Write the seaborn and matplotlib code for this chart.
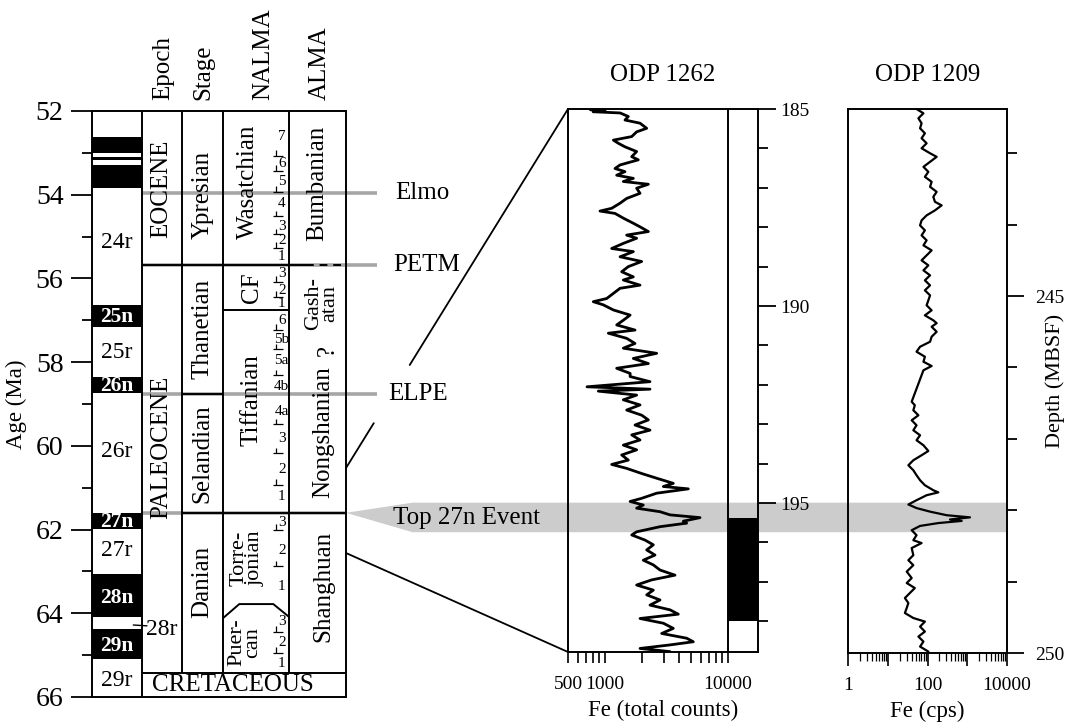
import numpy as np
import seaborn as sns
import matplotlib.pyplot as plt
from matplotlib.patches import ConnectionPatch, Polygon
from matplotlib.lines import Line2D
from matplotlib.ticker import NullFormatter

# --- 1. Data -----------------------------------------------------------------
# Magnetic polarity (normal chrons, black), ages in Ma
normal_top = [52.61, 53.09, 53.29, 56.63, 58.35, 61.61, 63.06, 64.38]
normal_base = [53.01, 53.16, 53.83, 57.17, 58.74, 61.99, 64.10, 65.09]
chron_names = ["24r", "25n", "25r", "26n", "26r", "27n", "27r", "28n", "29n", "29r"]
chron_ages = [55.15, 56.93, 57.78, 58.57, 60.14, 61.82, 62.49, 63.64, 64.77, 65.60]

# event horizons (Ma)
event_names = ["Elmo", "PETM", "ELPE"]
event_ages = [53.96, 55.68, 58.76]
top27n_age = 61.60
cretaceous_top = 65.42
cf_base = 56.76

# NALMA sub-zones: label, age of label
nalma_sub_labels = ["7", "6", "5", "4", "3", "2", "1",
                    "3", "2", "1",
                    "6", "5b", "5a", "4b", "4a", "3", "2", "1",
                    "3", "2", "1",
                    "3", "2", "1"]
nalma_sub_ages = [52.60, 53.25, 53.68, 54.20, 54.75, 55.10, 55.47,
                  55.88, 56.28, 56.60,
                  57.01, 57.45, 57.95, 58.59, 59.18, 59.82, 60.56, 61.21,
                  61.83, 62.50, 63.36,
                  64.20, 64.70, 65.19]
nalma_sub_bounds = [53.07, 53.43, 53.93, 54.52, 54.94, 55.27,
                    56.08, 56.44,
                    57.23, 57.69, 58.31, 59.48, 60.17, 60.93,
                    62.00, 62.87,
                    64.44, 64.94]

# ODP 1262: Fe (total counts) vs depth (mbsf)
depth_1262 = [185.02, 185.04, 185.07, 185.10, 185.19, 185.28, 185.36, 185.49, 185.58, 185.70,
              185.79, 185.87, 185.96, 186.08, 186.21, 186.29, 186.42, 186.51, 186.59, 186.68,
              186.76, 186.84, 186.91, 187.01, 187.14, 187.27, 187.39, 187.52, 187.59, 187.65,
              187.77, 187.90, 187.99, 188.11, 188.20, 188.28, 188.41, 188.54, 188.62, 188.75,
              188.87, 189.00, 189.13, 189.26, 189.34, 189.47, 189.55, 189.68, 189.81, 189.89,
              189.97, 190.10, 190.23, 190.36, 190.48, 190.61, 190.69, 190.82, 190.95, 191.07,
              191.20, 191.33, 191.46, 191.58, 191.71,
              191.79, 191.92, 192.05, 192.11, 192.16, 192.26, 192.38, 192.51, 192.64, 192.77,
              192.89, 193.02, 193.15, 193.27, 193.40, 193.53, 193.65, 193.78, 193.91, 194.02,
              194.12, 194.25, 194.37, 194.50, 194.58, 194.64, 194.75, 194.88, 194.96, 195.05,
              195.13, 195.22, 195.30, 195.37, 195.46, 195.51, 195.60, 195.73, 195.81, 195.94,
              196.06, 196.19, 196.32, 196.45, 196.57, 196.70, 196.83, 196.95, 197.08, 197.21,
              197.33, 197.46, 197.59, 197.71, 197.82, 197.93, 198.05, 198.18, 198.31, 198.43,
              198.52, 198.60, 198.69, 198.77]
fe_1262 = [760, 1000, 800, 1325, 1546, 1453, 1925, 2181, 1807, 1648,
           1169, 1283, 1453, 1807, 1648, 1865, 1325, 1205, 1453, 1244,
           1699, 1409, 2250, 1807, 1925, 1499, 1325, 1133, 910, 1205,
           1409, 1699, 1925, 2250, 1499, 1807, 1409, 1133, 1699, 1325,
           1985, 1546, 1366, 1699, 1409, 1925, 1325, 1169, 1031, 803,
           968, 1169, 1600, 1409, 1244, 1753, 1064, 1499, 1753, 1409,
           2629, 1699, 2250, 1244, 1600,
           1600, 2320, 714, 2320, 882, 1807, 1409, 1925, 1499, 1985,
           2250, 1753, 2320, 1648, 1925, 1409, 1807, 1366, 1546, 1133,
           1499, 1985, 2629, 3590, 2980, 4755, 2629, 1985, 1600, 2047,
           1807, 2800, 3375, 5920, 4330, 4610, 2800, 1807, 1648, 2113,
           2470, 2181, 2548, 2047, 2470, 2800, 3705, 2395, 1807, 2470,
           2181, 2800, 2320, 3375, 3940, 1925, 2980, 3590, 2890, 4610,
           5220, 3375, 1925, 3375]
band_1262 = [194.99, 195.74]
chron27n_1262 = [195.39, 197.99]

# ODP 1209: Fe (cps) vs depth (mbsf)
depth_1209 = [242.38, 242.44, 242.51, 242.58, 242.65, 242.72, 242.79, 242.86, 242.93, 243.00,
              243.05, 243.12, 243.19, 243.26, 243.33, 243.40, 243.47, 243.54, 243.61, 243.68,
              243.73, 243.80, 243.87, 243.94, 244.01, 244.08, 244.15, 244.22, 244.29, 244.36,
              244.43, 244.50, 244.57, 244.64, 244.71, 244.78, 244.85, 244.92, 244.99, 245.06,
              245.13, 245.20, 245.27, 245.34, 245.38, 245.43, 245.50, 245.57, 245.64, 245.71,
              245.78, 245.85, 245.92, 245.98, 246.04,
              246.48, 246.53, 246.60, 246.67, 246.74, 246.81, 246.88, 246.95, 247.02, 247.09,
              247.17, 247.23, 247.30, 247.37, 247.44, 247.51, 247.58, 247.65, 247.72, 247.75,
              247.79, 247.86, 247.92, 247.97, 248.02, 248.07, 248.10, 248.13, 248.15, 248.18,
              248.22, 248.28, 248.35, 248.42, 248.46, 248.53, 248.63, 248.70, 248.77, 248.86,
              248.95, 249.02, 249.09, 249.16, 249.23, 249.30, 249.37, 249.44, 249.51, 249.56,
              249.63, 249.70, 249.77, 249.84, 249.91, 249.98]
fe_1209 = [53, 79, 59, 71, 65, 86, 71, 95, 71, 116,
           170, 116, 79, 105, 86, 127, 116, 170, 140, 154,
           227, 154, 95, 71, 65, 86, 71, 95, 79, 127,
           95, 71, 105, 79, 116, 86, 116, 86, 116, 105,
           95, 127, 86, 140, 170, 127, 170, 127, 116, 65,
           53, 86, 79, 127, 79,
           40, 48, 44, 59, 40, 53, 44, 65, 53, 79,
           105, 71, 44, 33, 44, 53, 65, 86, 140, 187,
           95, 53, 33, 53, 116, 303, 1172, 368, 723, 187,
           65, 40, 53, 44, 71, 40, 44, 33, 44, 30,
           40, 30, 48, 36, 27, 33, 30, 27, 44, 86,
           65, 86, 59, 79, 65, 105]

# --- 2. Style ------------------------------------------------------------------
sns.set_theme(style="ticks",
              rc={"axes.linewidth": 1.4, "axes.edgecolor": "black",
                  "xtick.color": "black", "ytick.color": "black",
                  "axes.labelcolor": "black", "text.color": "black"})
plt.rcParams["font.family"] = ["Liberation Serif", "DejaVu Serif"]

GREY_LINE = "#a6a6a6"
BAND = "#cccccc"

fig = plt.figure(figsize=(10.67, 7.23), dpi=100)

# --- 3. Left stratigraphic panel ----------------------------------------------
axL = fig.add_axes([92 / 1067, 1 - 697 / 723, 254 / 1067, 586 / 723])
axL.set_facecolor("none")
cols = [0, 49.7, 89.7, 131.3, 197.3, 254]    # polarity | epoch | stage | NALMA | ALMA
sub_x = 181.3                                  # NALMA sub-zone strip
axL.set_xlim(cols[0], cols[-1])
axL.set_ylim(66, 52)

tops = np.array(normal_top)
bases = np.array(normal_base)
axL.bar(x=cols[1] / 2, width=cols[1], bottom=tops, height=bases - tops,
        color="black", edgecolor="none", zorder=2)

for name, age in zip(chron_names, chron_ages):
    if name.endswith("n"):
        axL.text(cols[1] / 2, age, name, color="white", fontsize=15.5,
                 fontweight="bold", ha="center", va="center", zorder=3)
    else:
        axL.text(cols[1] / 2, age, name, fontsize=17, ha="center", va="center")
axL.plot([41.3, 55], [64.28, 64.30], color="black", lw=1)
axL.text(69.7, 64.38, "28r", fontsize=17, ha="center", va="center")

# column boundaries
axL.vlines(cols[1], 52, 66, color="black", lw=1.4)
axL.vlines(cols[2:5], 52, cretaceous_top, color="black", lw=1.4)
axL.hlines(cretaceous_top, cols[1], cols[-1], color="black", lw=1.4)

# event horizons (grey) and boundaries (black)
axL.hlines(event_ages, cols[1], 285, color=GREY_LINE, lw=2.6, clip_on=False, zorder=1)
axL.hlines(top27n_age, cols[1], cols[-1], color=GREY_LINE, lw=2.6, zorder=1)
axL.hlines(event_ages[1], cols[1], 214, color="black", lw=1.4, zorder=2)
axL.plot([214, cols[-1]], [event_ages[1]] * 2, color="black", lw=1.4,
         ls=(0, (4, 3)), zorder=2)
axL.hlines(event_ages[2], cols[2], cols[3], color="black", lw=1.4, zorder=2)
axL.hlines(top27n_age, cols[2], cols[-1], color="black", lw=1.4, zorder=2)
axL.hlines(cf_base, cols[3], cols[4], color="black", lw=1.4)
axL.plot([cols[3], 147.3, sub_x, 196.7], [64.11, 63.78, 63.78, 64.08],
         color="black", lw=1.4)

# NALMA sub-zone ticks and numbers
bounds = np.array(nalma_sub_bounds)
axL.hlines(bounds, sub_x, sub_x + 10, color="black", lw=0.9)
axL.vlines(np.full(bounds.shape, sub_x + 3), bounds - 0.13, bounds,
           color="black", lw=0.9)
for lab, age in zip(nalma_sub_labels, nalma_sub_ages):
    axL.text(189.7, age, lab, fontsize=11, ha="center", va="center")

rot = dict(rotation=90, ha="center", va="center", fontsize=18)
axL.text(69.7, 53.85, "EOCENE", **rot)
axL.text(69.7, 60.03, "PALEOCENE", **rot)
axL.text(110.5, 54.0, "Ypresian", **rot)
axL.text(110.5, 57.2, "Thanetian", **rot)
axL.text(110.5, 60.18, "Selandian", **rot)
axL.text(110.5, 63.25, "Danian", **rot)
axL.text(156, 53.69, "Wasatchian", **rot)
axL.text(160, 56.23, "CF", **rot)
axL.text(160, 58.9, "Tiffanian", **rot)
axL.text(154.7, 62.69, "Torre-\njonian", rotation=90, ha="center", va="center",
         fontsize=16, linespacing=0.8)
axL.text(153, 64.7, "Puer-\ncan", rotation=90, ha="center", va="center",
         fontsize=16, linespacing=0.8)
axL.text(225.6, 53.73, "Bumbanian", **rot)
axL.text(229.7, 56.59, "Gash-\natan", rotation=90, ha="center", va="center",
         fontsize=16, linespacing=0.8)
axL.text(236, 57.71, "?", **rot)
axL.text(231, 59.67, "Nongshanian", **rot)
axL.text(231, 63.36, "Shanghuan", **rot)
axL.text(140.5, 65.72, "CRETACEOUS", fontsize=18, ha="center", va="center")

for x, lab in zip([71.3, 111.3, 171.3, 228], ["Epoch", "Stage", "NALMA", "ALMA"]):
    axL.text(x, 51.74, lab, rotation=90, ha="center", va="bottom", fontsize=18)

for name, age, x in zip(event_names, event_ages, [303, 301, 296]):
    axL.text(x, age, name, fontsize=18, ha="left", va="center")
axL.text(301, 61.72, "Top 27n Event", fontsize=18, ha="left", va="center", zorder=5)

axL.set_xticks([])
axL.set_yticks(range(52, 67, 2))
axL.set_yticks(range(53, 66, 2), minor=True)
axL.tick_params(axis="y", which="major", length=15, width=1.3, pad=5.5, labelsize=20)
axL.tick_params(axis="y", which="minor", length=7, width=1.3)
axL.set_ylabel("Age (Ma)", fontsize=16.5, labelpad=6)

# --- 4. ODP 1262 ----------------------------------------------------------------
ax1 = fig.add_axes([568 / 1067, 1 - 652 / 723, 190 / 1067, 543 / 723])
ax1.set_facecolor("none")
ax1.set_xscale("log")
ax1.set_xlim(500, 17525)
ax1.set_ylim(198.78, 185)
ax1.fill_betweenx(chron27n_1262, 10000, 17525, color="black", lw=0)
ax1.axvline(10000, color="black", lw=1.4)
sns.lineplot(x=fe_1262, y=depth_1262, sort=False, orient="y", estimator=None,
             color="black", lw=2.0, ax=ax1)
ax1.set_xticks([500, 1000, 10000])
ax1.set_xticklabels(["500", "1000", "10000"])
ax1.set_xticks([600, 700, 800, 900] + list(range(2000, 10000, 1000)), minor=True)
ax1.xaxis.set_minor_formatter(NullFormatter())
ax1.set_yticks([185, 190, 195])
ax1.set_yticks([d for d in range(186, 199) if d not in (190, 195)], minor=True)
ax1.tick_params(axis="y", left=False, right=True, labelleft=False, labelright=True,
                which="both", width=1.3, labelsize=14)
ax1.tick_params(axis="y", which="major", length=13, pad=3)
ax1.tick_params(axis="y", which="minor", length=7)
ax1.tick_params(axis="x", which="both", length=8, width=1.2, labelsize=14, pad=9)
ax1.set_xlabel("Fe (total counts)", fontsize=16.5, labelpad=5)
ax1.set_ylabel("")
ax1.set_title("ODP 1262", fontsize=18, pad=20)

# --- 5. ODP 1209 ----------------------------------------------------------------
ax2 = fig.add_axes([848 / 1067, 1 - 653 / 723, 159 / 1067, 544 / 723])
ax2.set_facecolor("none")
ax2.set_xscale("log")
ax2.set_xlim(1, 10000)
ax2.set_ylim(250, 242.38)
sns.lineplot(x=fe_1209, y=depth_1209, sort=False, orient="y", estimator=None,
             color="black", lw=1.6, ax=ax2)
ax2.set_xticks([1, 10, 100, 1000, 10000])
ax2.set_xticklabels(["1", "", "100", "", "10000"])
ax2.set_xticks([m * 10 ** e for e in range(4) for m in range(2, 10)], minor=True)
ax2.xaxis.set_minor_formatter(NullFormatter())
ax2.set_yticks([245, 250])
ax2.set_yticks([243, 244, 246, 247, 248, 249], minor=True)
ax2.tick_params(axis="y", left=False, right=True, labelleft=False, labelright=True,
                which="both", width=1.3, labelsize=14)
ax2.tick_params(axis="y", which="major", length=12, pad=8)
ax2.tick_params(axis="y", which="minor", length=7)
ax2.tick_params(axis="x", which="major", length=9, width=1.2, labelsize=14, pad=8)
ax2.tick_params(axis="x", which="minor", length=6, width=0.9)
ax2.set_xlabel("Fe (cps)", fontsize=16.5, labelpad=5)
ax2.set_title("ODP 1209", fontsize=18, pad=20)
# depth label sits close to the right edge, as in the original
ax2.text(1.305, 0.5, "Depth (MBSF)", transform=ax2.transAxes, rotation=90,
         ha="center", va="center", fontsize=16)

# --- 6. Links between panels ------------------------------------------------------
to_fig = fig.transFigure.inverted()
tip = axL.transData.transform((cols[-1], top27n_age))
y_top = ax1.transData.transform((500, band_1262[0]))[1]
y_bot = ax1.transData.transform((500, band_1262[1]))[1]
x_left = ax1.transAxes.transform((0, 0))[0]
x_right = ax2.transAxes.transform((1, 0))[0]
x_full = tip[0] + 0.3 * (x_left - tip[0])
band_pts = to_fig.transform([tip, (x_full, y_top), (x_right, y_top),
                             (x_right, y_bot), (x_full, y_bot)])
fig.add_artist(Polygon(band_pts, closed=True, transform=fig.transFigure,
                       facecolor=BAND, edgecolor="none", zorder=-5))

p0 = axL.transData.transform((cols[-1], 60.53))
p1 = ax1.transData.transform((500, 185))
for t0, t1 in [(0.0, 0.125), (0.287, 1.0)]:
    seg = to_fig.transform([p0 + t0 * (p1 - p0), p0 + t1 * (p1 - p0)])
    fig.add_artist(Line2D(seg[:, 0], seg[:, 1], transform=fig.transFigure,
                          color="black", lw=1.3))
fig.add_artist(ConnectionPatch(xyA=(cols[-1], 62.56), coordsA=axL.transData,
                               xyB=(500, 198.78), coordsB=ax1.transData,
                               color="black", lw=1.3))

fig.savefig("out.png", dpi=100)
